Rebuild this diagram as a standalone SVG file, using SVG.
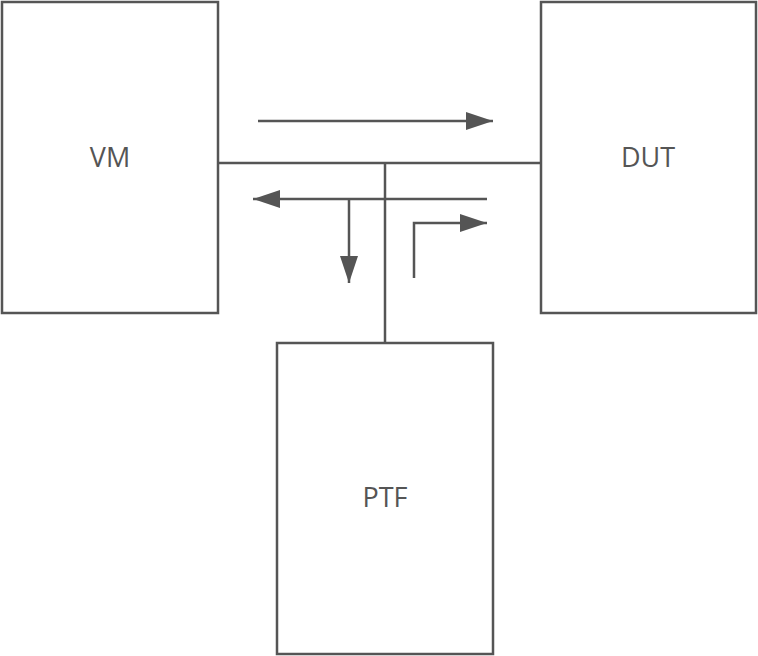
<svg xmlns="http://www.w3.org/2000/svg" width="758" height="656" viewBox="0 0 758 656">
<style>
.box{fill:#fff;stroke:#555;stroke-width:2.5}
.lbl{font-family:"Open Sans","Noto Sans",sans-serif;font-size:27px;fill:#555;text-anchor:middle;dominant-baseline:central}
.ln{fill:none;stroke:#555;stroke-width:2.5}
</style>
<defs>
<marker id="ah2" markerWidth="27" markerHeight="18" refX="27" refY="9" orient="auto" markerUnits="userSpaceOnUse"><path d="M0,0 L27,9 L0,18 Z" fill="#555"/></marker>
</defs>
<g id="connectors">
<path class="ln" d="M218,163 H541"/>
<path class="ln" d="M385,163 V343"/>
<path class="ln" d="M258,121 H493" marker-end="url(#ah2)"/>
<path class="ln" d="M487,199 H253" marker-end="url(#ah2)"/>
<path class="ln" d="M349,199 V283" marker-end="url(#ah2)"/>
<path class="ln" d="M414,278 V223 H487" marker-end="url(#ah2)"/>
</g>
<g id="VM"><rect class="box" x="2" y="2" width="216" height="311"/><text class="lbl" x="110" y="156">VM</text></g>
<g id="DUT"><rect class="box" x="541" y="2" width="215" height="311"/><text class="lbl" x="648" y="156">DUT</text></g>
<g id="PTF"><rect class="box" x="277" y="343" width="216" height="311"/><text class="lbl" x="385" y="496">PTF</text></g>
</svg>
